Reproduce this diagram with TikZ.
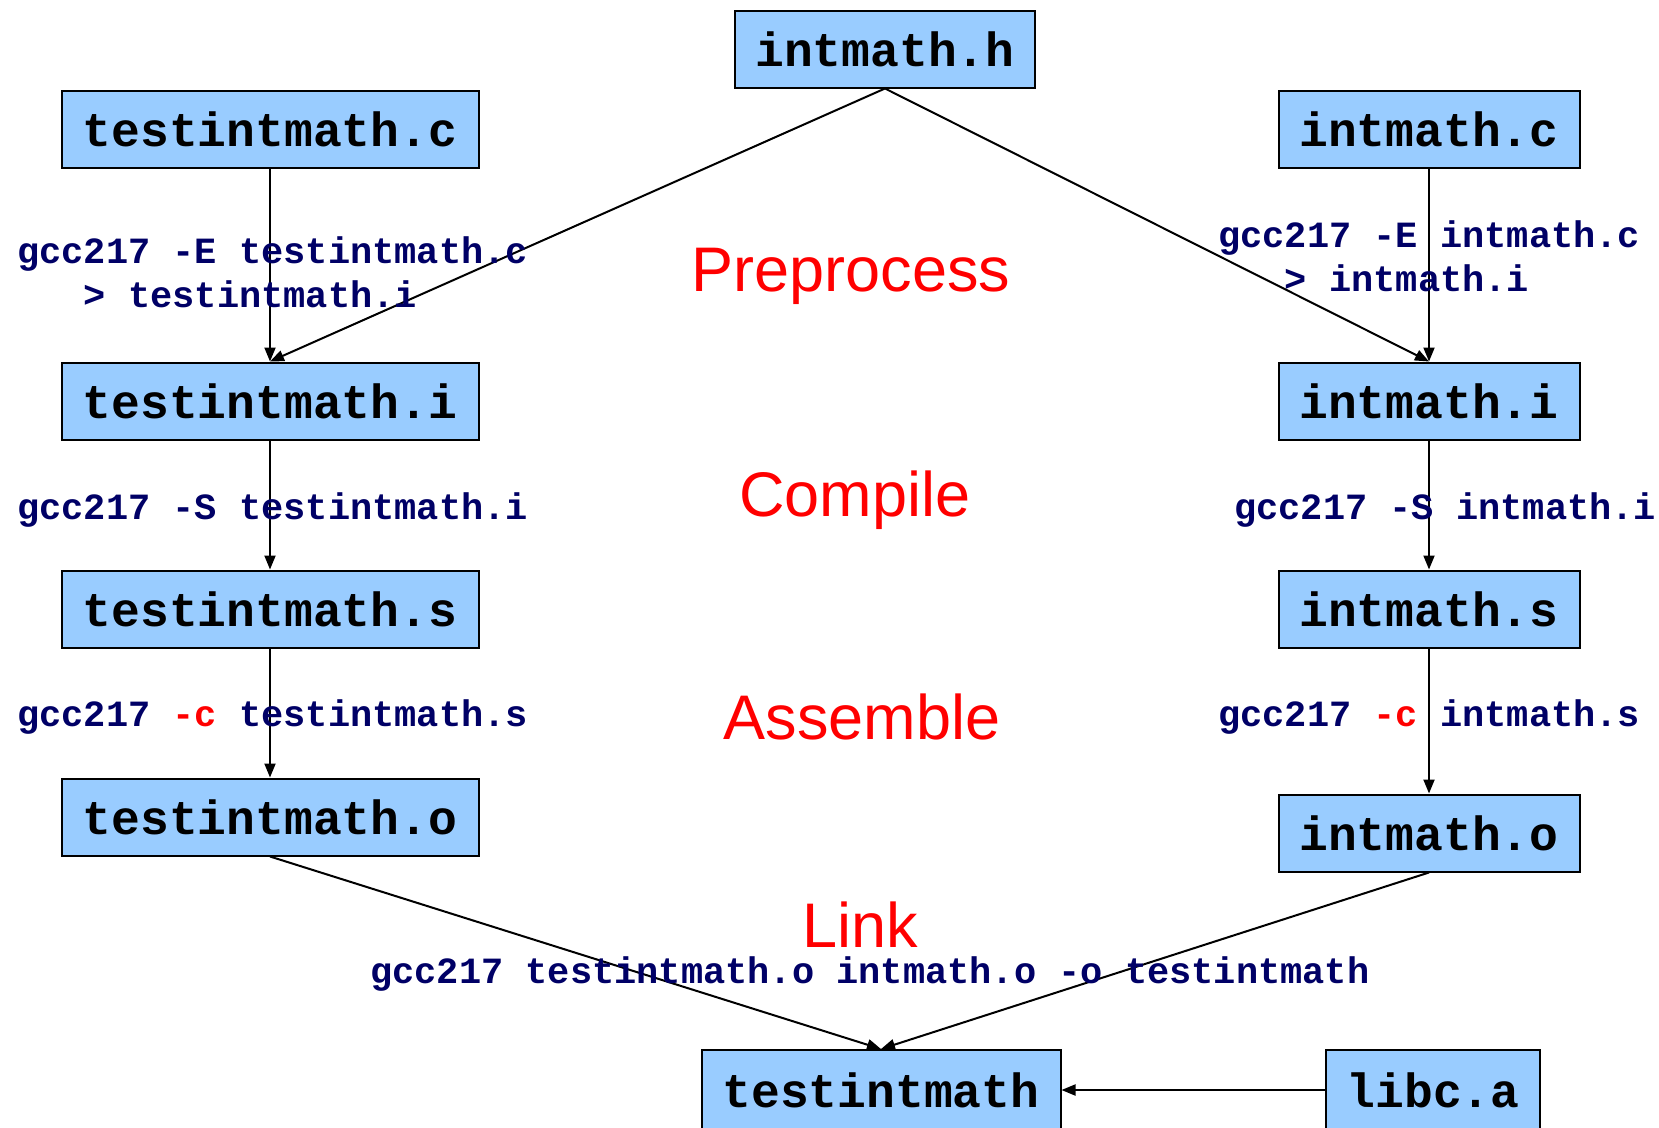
\documentclass[tikz,border=0pt]{standalone}
\usepackage{fontspec}
\setmainfont{Liberation Sans}
\setmonofont{Liberation Mono}
\usetikzlibrary{arrows.meta}
\definecolor{boxblue}{RGB}{153,204,255}
\definecolor{cmdblue}{RGB}{0,0,102}
\definecolor{stagered}{RGB}{255,0,0}
\begin{document}
\begin{tikzpicture}[x=1pt,y=-1pt,
  file/.style={draw=black,line width=2pt,fill=boxblue,inner sep=0pt,
    minimum height=77pt,font=\fontsize{48}{52}\selectfont\ttfamily\bfseries},
  cmd/.style={inner sep=0pt,anchor=base west,text=cmdblue,
    font=\fontsize{37}{44}\selectfont\ttfamily\bfseries},
  stage/.style={inner sep=0pt,anchor=base,text=stagered,
    font=\fontsize{63}{70}\selectfont},
  flow/.style={line width=2pt,-{Triangle[length=14pt,width=11pt]}}]
\useasboundingbox (0,0) rectangle (1659,1127);
% files
\node[file,minimum width=300pt] (h)  at (885,49)   {intmath.h};
\node[file,minimum width=417pt] (tc) at (270,129)  {testintmath.c};
\node[file,minimum width=301pt] (ic) at (1429,129) {intmath.c};
\node[file,minimum width=417pt] (ti) at (270,401)  {testintmath.i};
\node[file,minimum width=301pt] (ii) at (1429,401) {intmath.i};
\node[file,minimum width=417pt] (ts) at (270,609)  {testintmath.s};
\node[file,minimum width=301pt] (is) at (1429,609) {intmath.s};
\node[file,minimum width=417pt] (to) at (270,817)  {testintmath.o};
\node[file,minimum width=301pt] (io) at (1429,833) {intmath.o};
\node[file,minimum width=359pt,minimum height=80pt] (t) at (881,1090) {testintmath};
\node[file,minimum width=214pt,minimum height=80pt] (l) at (1433,1090) {libc.a};
% stages
\node[stage] (s1) at (851,291) {Preprocess};
\node[stage] (s2) at (855,516) {Compile};
\node[stage] (s3) at (862,739) {Assemble};
\node[stage] (s4) at (860,947) {Link};
% connectors
\draw[flow] (tc.south) -- (ti.north);
\draw[flow] (h.south) -- (ti.north);
\draw[flow] (h.south) -- (ii.north);
\draw[flow] (ic.south) -- (ii.north);
\draw[flow] (ti.south) -- (ts.north);
\draw[flow] (ii.south) -- (is.north);
\draw[flow] (ts.south) -- (to.north);
\draw[flow] (is.south) -- (io.north);
\draw[flow] (to.south) -- (t.north);
\draw[flow] (io.south) -- (t.north);
\draw[flow] (l.west) -- (t.east);
% commands
\node[cmd] (c1a) at (17,263) {gcc217 -E testintmath.c};
\node[cmd] (c1b) at (17,307) {\phantom{gcc}> testintmath.i};
\node[cmd] (c2a) at (1218,247) {gcc217 -E intmath.c};
\node[cmd] (c2b) at (1218,291) {\phantom{gcc}> intmath.i};
\node[cmd] (c3) at (17,519) {gcc217 -S testintmath.i};
\node[cmd] (c4) at (1234,519) {gcc217 -S intmath.i};
\node[cmd] (c5) at (17,726) {gcc217 \textcolor{stagered}{-c} testintmath.s};
\node[cmd] (c6) at (1218,726) {gcc217 \textcolor{stagered}{-c} intmath.s};
\node[cmd] (c7) at (370,983) {gcc217 testintmath.o intmath.o -o testintmath};
\end{tikzpicture}
\end{document}
